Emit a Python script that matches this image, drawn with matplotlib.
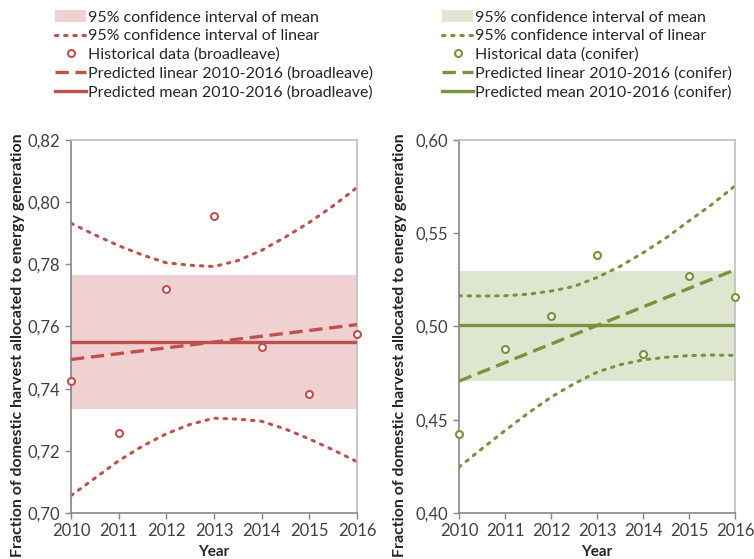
import matplotlib
matplotlib.use("Agg")
from matplotlib import pyplot as plt
from matplotlib.ticker import FuncFormatter, MultipleLocator
from matplotlib.patches import Patch
from matplotlib.lines import Line2D

plt.rcParams['font.family'] = ['Lato', 'DejaVu Sans']

years = [2010, 2011, 2012, 2013, 2014, 2015, 2016]
half_years = [2010, 2010.5, 2011, 2011.5, 2012, 2012.5, 2013, 2013.5,
              2014, 2014.5, 2015, 2015.5, 2016]

# broadleave
bl_hist = [0.7424, 0.7257, 0.7722, 0.7956, 0.7533, 0.7384, 0.7575]
bl_mean = 0.7551
bl_mean_ci = (0.7336, 0.7765)
bl_linear = [0.7494, 0.7606]
bl_ci_up = [0.7932, 0.7895, 0.7860, 0.7830, 0.7805, 0.7797, 0.7793, 0.7812,
            0.7845, 0.7888, 0.7935, 0.7988, 0.8047]
bl_ci_lo = [0.7056, 0.7112, 0.7168, 0.7215, 0.7255, 0.7285, 0.7305, 0.7302,
            0.7295, 0.7270, 0.7238, 0.7203, 0.7165]

# conifer
cf_hist = [0.4421, 0.4881, 0.5058, 0.5381, 0.4855, 0.5270, 0.5160]
cf_mean = 0.5006
cf_mean_ci = (0.4708, 0.5299)
cf_linear = [0.4707, 0.5304]
cf_ci_up = [0.5165, 0.5163, 0.5165, 0.5173, 0.5190, 0.5215, 0.5263, 0.5322,
            0.5395, 0.5475, 0.5566, 0.5655, 0.5754]
cf_ci_lo = [0.4246, 0.4345, 0.4442, 0.4535, 0.4621, 0.4693, 0.4755, 0.4795,
            0.4821, 0.4835, 0.4844, 0.4847, 0.4845]

YLABEL = 'Fraction of domestic harvest allocated to energy generation'
comma = FuncFormatter(lambda v, p: f'{v:.2f}'.replace('.', ','))

fig = plt.figure(figsize=(7.54, 5.59), dpi=100)
ax1 = fig.add_axes([71 / 754, 1 - 513 / 559, 286 / 754, 373 / 559])
ax2 = fig.add_axes([459 / 754, 1 - 513 / 559, 276 / 754, 373 / 559])


def draw(ax, hist, mean, mean_ci, linear, ci_up, ci_lo, color, fill, ylim, step,
         name, legx, labx):
    ax.axhspan(mean_ci[0], mean_ci[1], color=fill, lw=0, zorder=1)
    ax.plot(half_years, ci_up, ls=(0, (0.8, 2.2)), color=color, lw=2.2,
            dash_capstyle='round', zorder=2)
    ax.plot(half_years, ci_lo, ls=(0, (0.8, 2.2)), color=color, lw=2.2,
            dash_capstyle='round', zorder=2)
    ax.plot([years[0], years[-1]], [mean, mean], color=color, lw=2.4, zorder=3)
    ax.plot([years[0], years[-1]], linear, color=color, lw=2.4, ls=(0, (4, 2)), zorder=3)
    ax.plot(years, hist, 'o', ms=5, mfc='white', mec=color, mew=1.5,
            clip_on=False, zorder=5)

    ax.set_xlim(2010, 2016)
    ax.set_ylim(*ylim)
    ax.yaxis.set_major_locator(MultipleLocator(step))
    ax.yaxis.set_major_formatter(comma)
    ax.set_xticks(years)
    ax.tick_params(axis='both', labelsize=12, length=4, width=1,
                   colors='#868686', labelcolor='#404040')
    for s in ['left', 'bottom']:
        ax.spines[s].set_color('#868686')
        ax.spines[s].set_linewidth(1.2)
    for s in ['right', 'top']:
        ax.spines[s].set_color('#BFBFBF')
        ax.spines[s].set_linewidth(1.2)

    ax.set_xlabel('Year', fontsize=11, fontweight='bold', color='#262626')
    ax.xaxis.set_label_coords(0.5, -0.087)
    ax.set_ylabel(YLABEL, fontsize=11.5, fontweight='bold', color='#262626')
    ax.yaxis.set_label_coords(labx, 0.45)

    handles = [
        Patch(facecolor=fill, edgecolor='none'),
        Line2D([], [], ls=(0, (0.8, 2.2)), color=color, lw=2.2, dash_capstyle='round'),
        Line2D([], [], ls='none', marker='o', ms=5, mfc='white', mec=color, mew=1.5),
        Line2D([], [], ls=(0, (4, 2)), color=color, lw=2.4),
        Line2D([], [], color=color, lw=2.4),
    ]
    labels = [
        '95% confidence interval of mean',
        '95% confidence interval of linear',
        f'Historical data ({name})',
        f'Predicted linear 2010-2016 ({name})',
        f'Predicted mean 2010-2016 ({name})',
    ]
    fig.legend(handles, labels, loc='upper left', bbox_to_anchor=(legx, 1.0),
               frameon=False, fontsize=11.5, handlelength=1.9, handletextpad=0.15,
               labelspacing=0.28, borderaxespad=0.25, labelcolor='#262626')


draw(ax1, bl_hist, bl_mean, bl_mean_ci, bl_linear, bl_ci_up, bl_ci_lo,
     '#C0504D', '#EFD1D1', (0.70, 0.82), 0.02, 'broadleave', 45 / 754, -0.16)
draw(ax2, cf_hist, cf_mean, cf_mean_ci, cf_linear, cf_ci_up, cf_ci_lo,
     '#77933C', '#DEE6CF', (0.40, 0.60), 0.05, 'conifer', 432 / 754, -0.19)

fig.savefig('out.png', dpi=100)
